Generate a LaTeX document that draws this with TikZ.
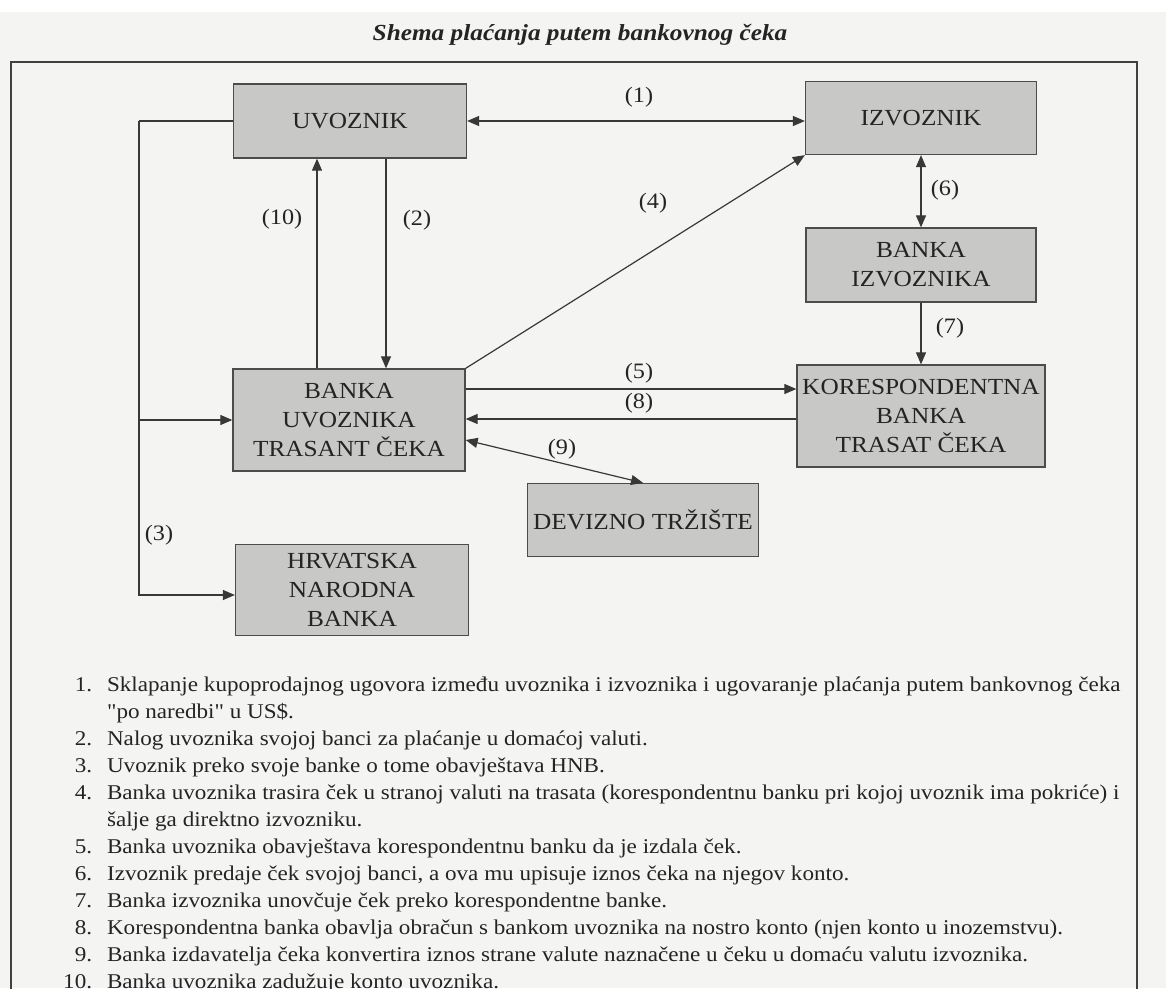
\documentclass[tikz,border=0pt]{standalone}
\usepackage{fontspec}
\setmainfont[FakeStretch=1.1,Ligatures=TeXOff]{Liberation Serif}
\usepackage{tikz}
\usetikzlibrary{arrows.meta,positioning,calc}
\definecolor{paper}{RGB}{244,244,242}
\definecolor{boxgray}{RGB}{200,200,198}
\definecolor{ink}{RGB}{36,36,36}
\tikzset{
  box/.style={draw=black!70,fill=boxgray,line width=1.3pt,align=center,
    inner sep=0pt,text=ink,font=\fontsize{23}{29}\selectfont},
  flow/.style={-{Triangle[length=12pt,width=10pt]},line width=1.2pt,draw=black!78},
  twoway/.style={{Triangle[length=12pt,width=10pt]}-{Triangle[length=12pt,width=10pt]},
    line width=1.2pt,draw=black!78},
  plain/.style={line width=1.2pt,draw=black!78},
  num/.style={text=ink,inner sep=0pt,font=\fontsize{22}{26}\selectfont},
  listtext/.style={text=ink,inner sep=0pt,font=\fontsize{21}{27}\selectfont}
}

\begin{document}
\begin{tikzpicture}[x=1pt,y=-1pt,line join=miter]
  % --- Page and clip ---
  \useasboundingbox (0,0) rectangle (1166,988);
  \clip (0,0) rectangle (1166,988);
  \fill[white] (0,0) rectangle (1166,988);
  \fill[paper] (0,12) rectangle (1166,988);

  % --- Title and frame ---
  \node[text=ink,font=\fontsize{23}{28}\selectfont\bfseries\itshape] (title) at (580,35)
    {Shema plaćanja putem bankovnog čeka};
  \draw[line width=1.6pt,black!75] (11,995) -- (11,62) -- (1137,62) -- (1137,995);

  % --- Participants ---
  \node[box,minimum width=233,minimum height=74] (uvoznik) at (350,121) {UVOZNIK};
  \node[box,minimum width=231,minimum height=73] (izvoznik) at (921,118) {IZVOZNIK};
  \node[box,minimum width=230,minimum height=74] (bi) at (921,265) {BANKA\\IZVOZNIKA};
  \node[box,minimum width=248,minimum height=102] (kor) at (921,416)
    {KORESPONDENTNA\\BANKA\\TRASAT ČEKA};
  \node[box,minimum width=232,minimum height=102] (bu) at (349,420)
    {BANKA\\UVOZNIKA\\TRASANT ČEKA};
  \node[box,minimum width=231,minimum height=73] (dev) at (643,520) {DEVIZNO TRŽIŠTE};
  \node[box,minimum width=233,minimum height=91] (hnb) at (352,590)
    {HRVATSKA\\NARODNA\\BANKA};

  % --- Helper coordinates ---
  \coordinate (bus) at (139,0);   % left collecting line
  \coordinate (y5) at (0,389);
  \coordinate (y8) at (0,419);

  % --- Connectors ---
  \draw[twoway] (uvoznik.east) -- (uvoznik.east -| izvoznik.west);            % (1)
  \draw[flow] ([xshift=36pt]uvoznik.south) -- ([xshift=37pt]bu.north);        % (2)
  \draw[flow] ([xshift=-32pt]bu.north) -- ([xshift=-33pt]uvoznik.south);      % (10)
  \draw[plain] (uvoznik.west) -- (uvoznik.west -| bus);
  \draw[flow] (uvoznik.west -| bus) -- ([yshift=-5pt]hnb.west -| bus)
    -- ([yshift=-5pt]hnb.west);                                               % (3)
  \draw[flow] (bu.west -| bus) -- (bu.west);
  \draw[flow] (bu.north east) -- (izvoznik.south west);                       % (4)
  \draw[flow] (bu.east |- y5) -- (kor.west |- y5);                            % (5)
  \draw[flow] (kor.west |- y8) -- (bu.east |- y8);                            % (8)
  \draw[twoway] (izvoznik.south) -- (bi.north);                               % (6)
  \draw[flow] (bi.south) -- (kor.north);                                      % (7)
  \draw[twoway] ([yshift=-20pt]bu.east) -- (dev.north);                       % (9)

  % --- Step labels ---
  \node[num] (l1) at (639,97) {(1)};
  \node[num] (l2) at (417,220) {(2)};
  \node[num] (l3) at (159,535) {(3)};
  \node[num] (l4) at (653,203) {(4)};
  \node[num] (l5) at (639,373) {(5)};
  \node[num] (l6) at (945,190) {(6)};
  \node[num] (l7) at (950,328) {(7)};
  \node[num] (l8) at (639,403) {(8)};
  \node[num] (l9) at (562,449) {(9)};
  \node[num] (l10) at (282,219) {(10)};

  % --- Legend ---
  \node[listtext,anchor=base west] (legend) at (63,691) {%
    \begin{tabular}[t]{@{}r@{\hspace{15pt}}l@{}}
    1. & Sklapanje kupoprodajnog ugovora između uvoznika i izvoznika i ugovaranje plaćanja putem bankovnog čeka\\
       & "po naredbi" u US\$.\\
    2. & Nalog uvoznika svojoj banci za plaćanje u domaćoj valuti.\\
    3. & Uvoznik preko svoje banke o tome obavještava HNB.\\
    4. & Banka uvoznika trasira ček u stranoj valuti na trasata (korespondentnu banku pri kojoj uvoznik ima pokriće) i\\
       & šalje ga direktno izvozniku.\\
    5. & Banka uvoznika obavještava korespondentnu banku da je izdala ček.\\
    6. & Izvoznik predaje ček svojoj banci, a ova mu upisuje iznos čeka na njegov konto.\\
    7. & Banka izvoznika unovčuje ček preko korespondentne banke.\\
    8. & Korespondentna banka obavlja obračun s bankom uvoznika na nostro konto (njen konto u inozemstvu).\\
    9. & Banka izdavatelja čeka konvertira iznos strane valute naznačene u čeku u domaću valutu izvoznika.\\
    10. & Banka uvoznika zadužuje konto uvoznika.
    \end{tabular}};
\end{tikzpicture}
\end{document}
